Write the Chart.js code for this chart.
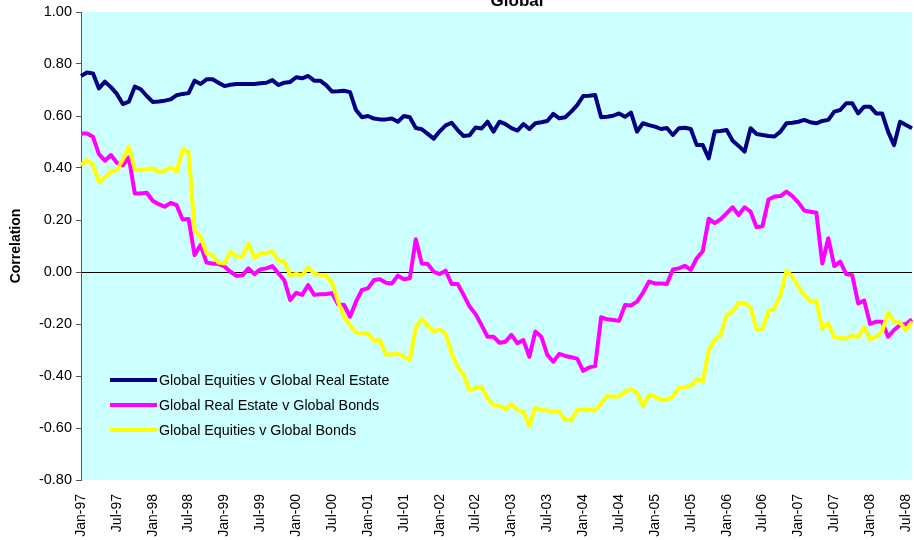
<!DOCTYPE html>
<html>
<head>
<meta charset="utf-8">
<title>Global</title>
<script src="https://cdn.jsdelivr.net/npm/chart.js@4.4.1/dist/chart.umd.min.js"></script>
<style>
  html, body { margin: 0; padding: 0; background: #ffffff; }
  #wrap { width: 914px; height: 540px; }
</style>
</head>
<body>
<div id="wrap">
  <canvas id="globalCorrChart" width="914" height="540"></canvas>
</div>
<script>

// =========================
// DATA
// =========================

const monthNames = ["Jan","Feb","Mar","Apr","May","Jun","Jul","Aug","Sep","Oct","Nov","Dec"];
const firstYear = 1997;
const monthCount = 140; // Jan-97 .. Aug-08

const tickLabels = [
  "Jan-97","Jul-97","Jan-98","Jul-98","Jan-99","Jul-99","Jan-00","Jul-00",
  "Jan-01","Jul-01","Jan-02","Jul-02","Jan-03","Jul-03","Jan-04","Jul-04",
  "Jan-05","Jul-05","Jan-06","Jul-06","Jan-07","Jul-07","Jan-08","Jul-08"
];

const seriesNames = [
  "Global Equities v Global Real Estate",
  "Global Real Estate v Global Bonds",
  "Global Equities v Global Bonds"
];

const equitiesVsRealEstate = [
  0.754, 0.767, 0.764, 0.706, 0.732, 0.711, 0.685, 0.646, 0.655, 0.713,
  0.703, 0.677, 0.654, 0.656, 0.659, 0.664, 0.680, 0.685, 0.688, 0.736,
  0.723, 0.741, 0.741, 0.728, 0.715, 0.720, 0.723, 0.723, 0.723, 0.723,
  0.726, 0.728, 0.738, 0.719, 0.728, 0.731, 0.749, 0.745, 0.754, 0.736,
  0.736, 0.719, 0.694, 0.695, 0.697, 0.692, 0.623, 0.595, 0.600, 0.590,
  0.587, 0.587, 0.590, 0.578, 0.600, 0.595, 0.554, 0.549, 0.531, 0.513,
  0.541, 0.564, 0.574, 0.546, 0.523, 0.526, 0.556, 0.552, 0.578, 0.540,
  0.578, 0.569, 0.553, 0.544, 0.569, 0.550, 0.572, 0.576, 0.581, 0.608,
  0.591, 0.595, 0.617, 0.642, 0.677, 0.678, 0.681, 0.595, 0.597, 0.601,
  0.610, 0.597, 0.613, 0.540, 0.572, 0.565, 0.559, 0.550, 0.554, 0.527,
  0.553, 0.555, 0.550, 0.488, 0.488, 0.437, 0.540, 0.542, 0.546, 0.505,
  0.485, 0.463, 0.553, 0.531, 0.527, 0.523, 0.521, 0.540, 0.572, 0.574,
  0.578, 0.585, 0.576, 0.572, 0.581, 0.585, 0.617, 0.623, 0.649, 0.649,
  0.610, 0.636, 0.636, 0.610, 0.610, 0.540, 0.488, 0.578, 0.565, 0.553
];

const realEstateVsBonds = [
  0.533, 0.533, 0.520, 0.453, 0.428, 0.450, 0.420, 0.410, 0.441, 0.302,
  0.302, 0.305, 0.274, 0.261, 0.251, 0.266, 0.257, 0.202, 0.204, 0.065,
  0.104, 0.036, 0.033, 0.031, 0.021, 0.001, -0.015, -0.013, 0.014, -0.008,
  0.010, 0.014, 0.023, -0.005, -0.031, -0.108, -0.080, -0.088, -0.050, -0.088,
  -0.086, -0.085, -0.082, -0.124, -0.127, -0.172, -0.114, -0.069, -0.063, -0.031,
  -0.028, -0.041, -0.044, -0.014, -0.028, -0.024, 0.126, 0.033, 0.031, 0.001,
  -0.008, 0.005, -0.046, -0.046, -0.088, -0.133, -0.162, -0.204, -0.249, -0.249,
  -0.272, -0.268, -0.242, -0.274, -0.262, -0.326, -0.229, -0.249, -0.319, -0.345,
  -0.315, -0.323, -0.328, -0.333, -0.380, -0.367, -0.362, -0.174, -0.182, -0.185,
  -0.188, -0.127, -0.129, -0.114, -0.080, -0.037, -0.044, -0.044, -0.046, 0.010,
  0.014, 0.024, 0.008, 0.053, 0.080, 0.205, 0.188, 0.203, 0.226, 0.249,
  0.219, 0.249, 0.232, 0.172, 0.177, 0.279, 0.290, 0.292, 0.309, 0.292,
  0.267, 0.236, 0.232, 0.228, 0.033, 0.130, 0.023, 0.040, -0.008, -0.012,
  -0.121, -0.110, -0.200, -0.191, -0.191, -0.249, -0.223, -0.204, -0.200, -0.182
];

const equitiesVsBonds = [
  0.412, 0.431, 0.412, 0.347, 0.364, 0.386, 0.392, 0.433, 0.482, 0.395,
  0.392, 0.395, 0.399, 0.386, 0.390, 0.402, 0.386, 0.472, 0.463, 0.162,
  0.136, 0.072, 0.065, 0.036, 0.033, 0.078, 0.059, 0.059, 0.110, 0.053,
  0.072, 0.072, 0.081, 0.044, 0.041, -0.012, -0.008, -0.012, 0.017, -0.005,
  -0.012, -0.014, -0.041, -0.114, -0.172, -0.204, -0.233, -0.236, -0.238, -0.265,
  -0.262, -0.317, -0.317, -0.313, -0.326, -0.338, -0.213, -0.182, -0.204, -0.229,
  -0.221, -0.238, -0.313, -0.364, -0.396, -0.454, -0.447, -0.441, -0.486, -0.512,
  -0.515, -0.528, -0.508, -0.531, -0.537, -0.592, -0.521, -0.531, -0.533, -0.537,
  -0.537, -0.567, -0.569, -0.531, -0.531, -0.531, -0.533, -0.505, -0.477, -0.479,
  -0.479, -0.460, -0.451, -0.464, -0.515, -0.473, -0.479, -0.492, -0.492, -0.479,
  -0.447, -0.444, -0.438, -0.413, -0.422, -0.300, -0.262, -0.242, -0.165, -0.152,
  -0.118, -0.120, -0.136, -0.221, -0.217, -0.152, -0.140, -0.088, 0.005, -0.018,
  -0.056, -0.088, -0.114, -0.110, -0.217, -0.197, -0.251, -0.255, -0.255, -0.246,
  -0.249, -0.213, -0.259, -0.249, -0.229, -0.156, -0.191, -0.195, -0.223, -0.191
];


// =========================
// LABELS
// =========================

const monthLabels = [];

for(let i = 0; i < monthCount; i++) {
  const year = firstYear + Math.floor(i / 12);
  monthLabels.push(
    monthNames[i % 12] + "-" + String(year % 100).padStart(2, "0")
  );
}


// =========================
// PLUGINS
// =========================

const FONT = '"Liberation Sans", Arial, sans-serif';

const plotBackground = {
  id: "plotBackground",
  beforeDraw(chart) {
    const { ctx, chartArea } = chart;
    ctx.save();
    ctx.fillStyle = "#ccffff";
    ctx.fillRect(
      chartArea.left,
      chartArea.top,
      chartArea.right - chartArea.left,
      chartArea.bottom - chartArea.top
    );
    ctx.restore();
  }
};

// title sits half off the top edge, like the source picture
const clippedTitle = {
  id: "clippedTitle",
  afterDraw(chart) {
    const ctx = chart.ctx;
    ctx.save();
    ctx.font = "bold 17px " + FONT;
    ctx.fillStyle = "#000000";
    ctx.textAlign = "center";
    ctx.textBaseline = "alphabetic";
    ctx.fillText("Global", 517, 6);
    ctx.restore();
  }
};

// legend drawn inside the plot area, bottom left
const insideLegend = {
  id: "insideLegend",
  afterDatasetsDraw(chart) {
    const ctx = chart.ctx;
    const rows = [380, 405, 430];
    ctx.save();
    ctx.font = "14.3px " + FONT;
    ctx.textBaseline = "middle";
    ctx.textAlign = "left";
    chart.data.datasets.forEach((ds, i) => {
      const y = rows[i];
      ctx.strokeStyle = ds.borderColor;
      ctx.lineWidth = 4;
      ctx.beginPath();
      ctx.moveTo(110, y);
      ctx.lineTo(157, y);
      ctx.stroke();
      ctx.fillStyle = "#000000";
      ctx.fillText(ds.label, 159, y + 1);
    });
    ctx.restore();
  }
};


// =========================
// CHART
// =========================

function renderGlobalChart() {

  const canvas = document.getElementById("globalCorrChart");

  if(!canvas || typeof Chart === "undefined") return;

  new Chart(canvas, {
    type: "line",
    data: {
      labels: monthLabels,
      datasets: [
        {
          label: seriesNames[0],
          data: equitiesVsRealEstate,
          borderColor: "#000080",
          borderWidth: 4,
          order: 2
        },
        {
          label: seriesNames[1],
          data: realEstateVsBonds,
          borderColor: "#ff00ff",
          borderWidth: 4,
          order: 1
        },
        {
          label: seriesNames[2],
          data: equitiesVsBonds,
          borderColor: "#ffff00",
          borderWidth: 4,
          order: 0
        }
      ]
    },
    options: {
      responsive: false,
      animation: false,
      devicePixelRatio: 1,
      layout: {
        padding: { top: 12, right: 2, left: 0, bottom: 0 }
      },
      elements: {
        point: { radius: 0 },
        line: { tension: 0, borderJoinStyle: "round", fill: false }
      },
      plugins: {
        legend: { display: false },
        title: { display: false },
        tooltip: { enabled: false }
      },
      scales: {
        x: {
          type: "category",
          offset: false,
          grid: { display: false },
          border: { display: false },
          ticks: {
            autoSkip: false,
            maxRotation: 90,
            minRotation: 90,
            padding: 6,
            color: "#000000",
            font: { family: FONT, size: 14 },
            callback(value) {
              const label = this.getLabelForValue(value);
              return tickLabels.includes(label) ? label : "";
            }
          },
          afterFit(scale) {
            scale.height = 60;
            scale.paddingLeft = 0;
            scale.paddingRight = 0;
          }
        },
        y: {
          min: -0.8,
          max: 1.0,
          grid: {
            drawTicks: true,
            tickLength: 5,
            tickColor: "#555555",
            lineWidth: 1,
            color(ctx) {
              return ctx.tick && Math.abs(ctx.tick.value) < 1e-9
                ? "#000000"
                : "rgba(0,0,0,0)";
            }
          },
          border: { display: true, color: "#555555", width: 1 },
          ticks: {
            stepSize: 0.2,
            padding: 4,
            color: "#000000",
            font: { family: FONT, size: 14.5 },
            callback(value) {
              return Number(value).toFixed(2);
            }
          },
          title: {
            display: true,
            text: "Correlation",
            color: "#000000",
            padding: { top: 8, bottom: 0 },
            font: { family: FONT, size: 14, weight: "bold" }
          },
          afterFit(scale) {
            scale.width = 81;
            scale.paddingTop = 0;
            scale.paddingBottom = 0;
          }
        }
      }
    },
    plugins: [plotBackground, insideLegend, clippedTitle]
  });

}

renderGlobalChart();

</script>
</body>
</html>
